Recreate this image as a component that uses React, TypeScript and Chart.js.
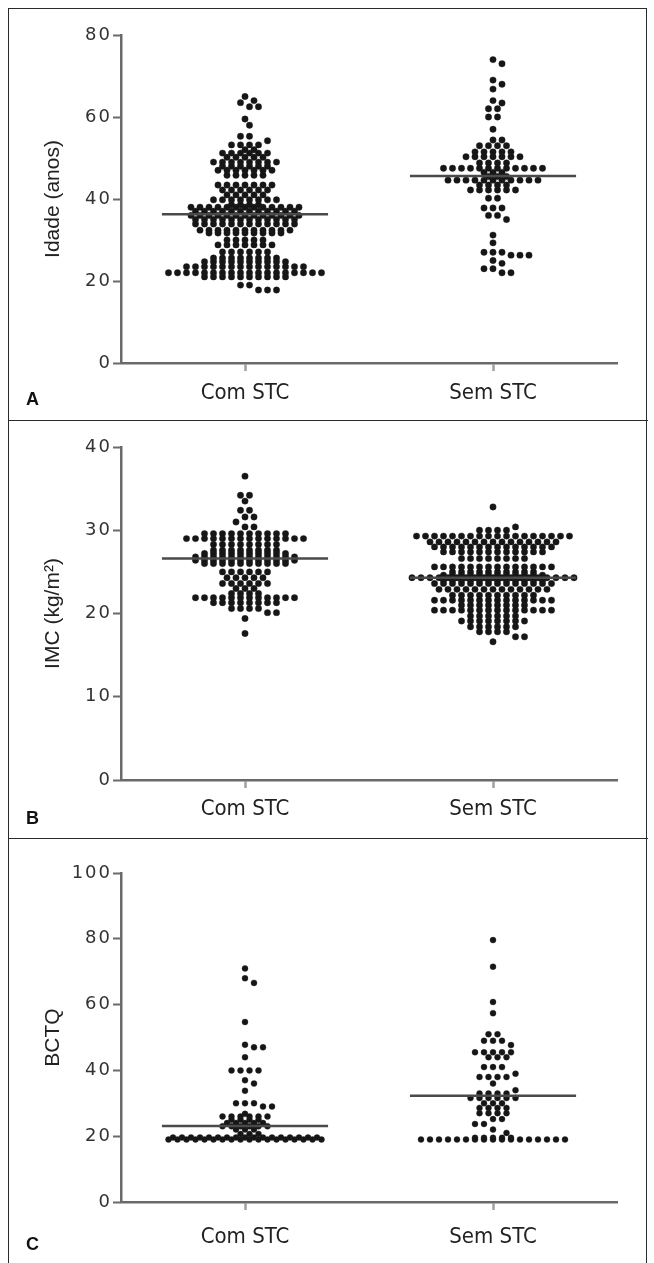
import React, { useEffect, useRef } from 'react';
import { Chart, registerables } from 'chart.js';

Chart.register(...registerables);

const categories = ['Com STC', 'Sem STC'];

// Panel A – Idade (anos): rows of dots (value, number of dots in row)
const idadeComValues = [65, 64, 63.5, 62.5, 59.5, 58, 55.3, 54.2, 53.2, 52, 51.2, 50.2, 49, 48, 47, 45.8, 43.4, 42.2, 41, 39.8, 38.6, 38, 37, 36, 35, 33.9, 32.4, 31.7, 30, 28.8, 27.1, 25.6, 24.7, 23.5, 22, 21, 19, 17.8];
const idadeComCounts = [1, 1, 1, 2, 1, 1, 2, 1, 4, 2, 6, 5, 8, 6, 7, 5, 7, 6, 5, 8, 4, 13, 12, 13, 12, 12, 11, 9, 5, 7, 6, 8, 10, 14, 18, 10, 2, 3];
const idadeSemValues = [74, 73, 69, 68, 66.8, 64, 63.4, 62, 60, 57, 54.4, 53, 51.5, 50.3, 48.8, 47.5, 46.5, 45.5, 44.6, 43.4, 42.2, 40.2, 37.8, 36, 35, 31.2, 29.3, 27, 26.3, 25, 24.3, 23, 22];
const idadeSemCounts = [1, 1, 1, 1, 1, 1, 1, 2, 2, 1, 2, 4, 5, 7, 4, 12, 3, 3, 11, 4, 6, 2, 3, 2, 1, 1, 1, 3, 3, 1, 1, 2, 2];
const idadeMeans = [36.3, 45.6];

// Panel B – IMC (kg/m²)
const imcComValues = [36.5, 34.2, 33.5, 32.4, 31.6, 31, 30.4, 29.6, 29, 28.3, 27.6, 27.2, 26.8, 26.4, 26, 25, 24.3, 23.6, 23, 22.4, 21.9, 21.3, 20.6, 20.1, 19.4, 17.6];
const imcComCounts = [1, 2, 1, 2, 2, 1, 2, 10, 14, 8, 8, 10, 12, 12, 10, 6, 5, 6, 3, 4, 12, 8, 4, 2, 1, 1];
const imcSemValues = [32.8, 30.4, 30, 29.3, 28.6, 28, 27.4, 26.6, 25.6, 25, 24.6, 24.3, 24, 23.6, 22.9, 22.2, 21.6, 21, 20.4, 19.7, 19.1, 18.4, 17.8, 17.2, 16.6];
const imcSemCounts = [1, 1, 4, 18, 15, 14, 12, 8, 14, 10, 12, 19, 12, 14, 13, 10, 14, 8, 14, 6, 8, 6, 4, 2, 1];
const imcMeans = [26.6, 24.3];

// Panel C – BCTQ
const bctqComValues = [71, 68, 66.6, 54.7, 47.8, 47, 44, 40, 37, 36, 33.8, 30, 29, 26.8, 26, 25, 24, 23, 22, 20.7, 19.6, 19];
const bctqComCounts = [1, 1, 1, 1, 1, 2, 1, 4, 1, 1, 1, 3, 2, 1, 6, 4, 5, 6, 3, 3, 17, 18];
const bctqSemValues = [79.6, 71.5, 60.8, 57.4, 51, 49, 47.7, 45.5, 44, 41, 39, 38, 36, 34, 33, 31.6, 30, 28.6, 27, 25.2, 23.7, 22, 21, 19.5, 19];
const bctqSemCounts = [1, 1, 1, 1, 2, 3, 1, 5, 3, 3, 1, 4, 1, 1, 4, 6, 3, 4, 4, 2, 2, 1, 1, 5, 17];
const bctqMeans = [23.1, 32.3];

const idadeTickStep = 20;
const imcTickStep = 10;
const bctqTickStep = 20;

type PanelCfg = {
  top: number;
  height: number;
  padTop: number;
  padBottom: number;
  xHeight: number;
  labelPad: number;
  yMax: number;
  yStep: number;
  title: string;
  com: [number[], number[]];
  sem: [number[], number[]];
  means: number[];
  radius: number;
  letter: string;
  letterTop: number;
};

const PAD_LEFT = 40;
const PAD_RIGHT = 37;
const Y_AXIS_W = 81;
const CANVAS_W = 654;
const SPACING_PX = 9;
const MIN_DIST_PX = 7;
const MEAN_HALF = 0.335;
const CAT_FONT = "'DejaVu Sans Condensed', 'Liberation Sans', Arial, sans-serif";

// Deterministic dot-plot layout: dense rows are centred, sparse rows are
// nudged sideways (in half-spacing steps) to avoid covering neighbours.
function layoutRows(cat: number, values: number[], counts: number[], pxX: number, pxY: number) {
  const s = SPACING_PX;
  const placed: { px: number; py: number }[] = [];
  const out: { x: number; y: number }[] = [];
  const rows = values.map((v, i) => ({ v, n: counts[i] }));
  const dense = rows.filter((r) => r.n >= 4);
  const sparse = rows.filter((r) => r.n < 4);
  const put = (r: { v: number; n: number }, off: number) => {
    for (let i = 0; i < r.n; i++) {
      const px = off + (i - (r.n - 1) / 2) * s;
      placed.push({ px, py: r.v * pxY });
      out.push({ x: cat + px / pxX, y: r.v });
    }
  };
  dense.forEach((r) => put(r, 0));
  sparse.forEach((r) => {
    let best = 0;
    let bestD = -1;
    for (let k = 0; k <= 12; k++) {
      const off = (k % 2 === 1 ? 1 : -1) * Math.ceil(k / 2) * (s / 2);
      let minD = Infinity;
      for (let i = 0; i < r.n; i++) {
        const px = off + (i - (r.n - 1) / 2) * s;
        const py = r.v * pxY;
        for (const p of placed) {
          const d = Math.hypot(p.px - px, p.py - py);
          if (d < minD) minD = d;
        }
      }
      if (minD >= MIN_DIST_PX) {
        best = off;
        bestD = minD;
        break;
      }
      if (minD > bestD) {
        bestD = minD;
        best = off;
      }
    }
    put(r, best);
  });
  return out;
}

const panels: PanelCfg[] = [
  {
    top: 9, height: 411, padTop: 26, padBottom: 12, xHeight: 45, labelPad: 9,
    yMax: 80, yStep: idadeTickStep, title: 'Idade (anos)',
    com: [idadeComValues, idadeComCounts], sem: [idadeSemValues, idadeSemCounts],
    means: idadeMeans, radius: 3.2, letter: 'A', letterTop: 390,
  },
  {
    top: 422, height: 416, padTop: 25, padBottom: 13, xHeight: 45, labelPad: 8,
    yMax: 40, yStep: imcTickStep, title: 'IMC (kg/m²)',
    com: [imcComValues, imcComCounts], sem: [imcSemValues, imcSemCounts],
    means: imcMeans, radius: 3.2, letter: 'B', letterTop: 809,
  },
  {
    top: 840, height: 423, padTop: 33, padBottom: 11, xHeight: 50, labelPad: 14,
    yMax: 100, yStep: bctqTickStep, title: 'BCTQ',
    com: [bctqComValues, bctqComCounts], sem: [bctqSemValues, bctqSemCounts],
    means: bctqMeans, radius: 3, letter: 'C', letterTop: 1235,
  },
];

const spacedTicks = {
  id: 'spacedTicks',
  beforeDraw(chart: any) {
    const s: any = chart.scales.y;
    if (s && !s.__spaced) {
      const orig = s.drawLabels.bind(s);
      s.drawLabels = (area: any) => {
        const ctx: any = chart.ctx;
        ctx.save();
        ctx.letterSpacing = '2px';
        orig(area);
        ctx.restore();
      };
      s.__spaced = true;
    }
  },
};

function Panel({ cfg }: { cfg: PanelCfg }) {
  const ref = useRef<HTMLCanvasElement | null>(null);
  useEffect(() => {
    if (!ref.current) return;
    const pxX = (CANVAS_W - PAD_LEFT - PAD_RIGHT - Y_AXIS_W) / 2;
    const pxY = (cfg.height - cfg.padTop - cfg.padBottom - cfg.xHeight) / cfg.yMax;
    const comPts = layoutRows(1, cfg.com[0], cfg.com[1], pxX, pxY);
    const semPts = layoutRows(2, cfg.sem[0], cfg.sem[1], pxX, pxY);
    const meanStyle = {
      type: 'line' as const,
      borderColor: '#4a4a4a',
      borderWidth: 2.5,
      pointRadius: 0,
      showLine: true,
      order: 0,
    };
    const dotStyle = {
      type: 'scatter' as const,
      pointRadius: cfg.radius,
      backgroundColor: '#161616',
      borderColor: 'rgba(30,30,30,0.45)',
      borderWidth: 0.8,
      order: 1,
    };
    const chart = new Chart(ref.current, {
      type: 'scatter',
      data: {
        datasets: [
          { ...meanStyle, data: [{ x: 1 - MEAN_HALF, y: cfg.means[0] }, { x: 1 + MEAN_HALF, y: cfg.means[0] }] },
          { ...meanStyle, data: [{ x: 2 - MEAN_HALF, y: cfg.means[1] }, { x: 2 + MEAN_HALF, y: cfg.means[1] }] },
          { ...dotStyle, data: comPts },
          { ...dotStyle, data: semPts },
        ] as any,
      },
      plugins: [spacedTicks],
      options: {
        animation: false,
        responsive: false,
        maintainAspectRatio: false,
        events: [],
        layout: { padding: { left: PAD_LEFT, right: PAD_RIGHT, top: cfg.padTop, bottom: cfg.padBottom } },
        plugins: { legend: { display: false }, tooltip: { enabled: false } },
        scales: {
          x: {
            type: 'linear',
            min: 0.5,
            max: 2.5,
            afterBuildTicks: (s: any) => {
              s.ticks = [{ value: 1 }, { value: 2 }];
            },
            afterFit: (s: any) => {
              s.height = cfg.xHeight;
            },
            ticks: {
              callback: (v: any) => categories[Math.round(Number(v)) - 1] ?? '',
              font: { family: CAT_FONT, size: 22 },
              color: '#222',
              padding: cfg.labelPad,
              maxRotation: 0,
              autoSkip: false,
            },
            grid: {
              display: true,
              drawOnChartArea: false,
              drawTicks: true,
              tickLength: 8,
              tickColor: '#a0a0a0',
              tickWidth: 2.5,
            },
            border: { display: true, color: '#6a6a6a', width: 2.5 },
          },
          y: {
            type: 'linear',
            min: 0,
            max: cfg.yMax,
            afterFit: (s: any) => {
              s.width = Y_AXIS_W;
            },
            ticks: {
              stepSize: cfg.yStep,
              font: { family: "'DejaVu Sans', sans-serif", size: 18 },
              color: '#333',
              padding: 1,
            },
            grid: {
              display: true,
              drawOnChartArea: false,
              drawTicks: true,
              tickLength: 8,
              tickColor: '#6a6a6a',
              tickWidth: 2,
            },
            border: { display: true, color: '#6a6a6a', width: 2.5 },
            title: {
              display: true,
              text: cfg.title,
              font: { family: "'Liberation Sans', Arial, sans-serif", size: 21 },
              color: '#222',
              padding: { top: 1, bottom: 0 },
            },
          },
        },
      } as any,
    });
    return () => chart.destroy();
  }, [cfg]);
  return (
    <canvas
      ref={ref}
      width={CANVAS_W}
      height={cfg.height}
      style={{ position: 'absolute', left: 0, top: cfg.top, width: CANVAS_W, height: cfg.height }}
    />
  );
}

export default function App() {
  return (
    <div
      style={{
        position: 'absolute',
        left: 0,
        top: 0,
        width: 654,
        height: 1263,
        overflow: 'hidden',
        background: '#fff',
      }}
    >
      <div
        style={{
          position: 'absolute',
          left: 8,
          top: 8,
          width: 637,
          height: 1280,
          border: '1.5px solid #2a2a2a',
        }}
      />
      <div style={{ position: 'absolute', left: 8, top: 420, width: 640, height: 0, borderTop: '1.5px solid #2a2a2a' }} />
      <div style={{ position: 'absolute', left: 8, top: 838, width: 640, height: 0, borderTop: '1.5px solid #2a2a2a' }} />
      {panels.map((p) => (
        <React.Fragment key={p.letter}>
          <Panel cfg={p} />
          <div
            style={{
              position: 'absolute',
              left: 26,
              top: p.letterTop,
              fontFamily: "'Liberation Sans', Arial, sans-serif",
              fontWeight: 'bold',
              fontSize: 18,
              lineHeight: '18px',
              color: '#111',
            }}
          >
            {p.letter}
          </div>
        </React.Fragment>
      ))}
    </div>
  );
}
